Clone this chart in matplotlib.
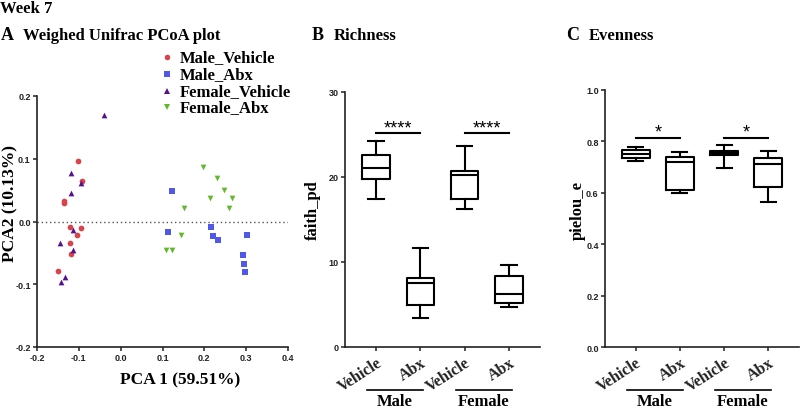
import matplotlib
matplotlib.use("Agg")
import matplotlib.pyplot as plt
from matplotlib.lines import Line2D

# ---------------- data ----------------
mv_x = [-0.102, -0.093, -0.136, -0.136, -0.120, -0.096, -0.104, -0.120, -0.118, -0.149]
mv_y = [0.096, 0.065, 0.033, 0.029, -0.008, -0.011, -0.021, -0.035, -0.052, -0.079]
ma_x = [0.123, 0.114, 0.217, 0.221, 0.233, 0.302, 0.292, 0.294, 0.298]
ma_y = [0.049, -0.016, -0.009, -0.023, -0.029, -0.021, -0.053, -0.068, -0.081]
fv_x = [-0.041, -0.119, -0.095, -0.119, -0.115, -0.144, -0.114, -0.132, -0.142]
fv_y = [0.170, 0.078, 0.061, 0.045, -0.014, -0.034, -0.045, -0.088, -0.096]
fa_x = [0.198, 0.231, 0.248, 0.213, 0.266, 0.260, 0.152, 0.145, 0.108, 0.123]
fa_y = [0.087, 0.069, 0.050, 0.037, 0.038, 0.022, 0.022, -0.022, -0.046, -0.045]
series_names = ["Male_Vehicle", "Male_Abx", "Female_Vehicle", "Female_Abx"]

groups = ["Vehicle", "Abx", "Vehicle", "Abx"]
sexes = ["Male", "Female"]

rich_whislo = [17.4, 3.4, 16.2, 4.7]
rich_q1 = [19.8, 4.9, 17.4, 5.2]
rich_med = [21.1, 7.5, 20.2, 6.2]
rich_q3 = [22.6, 8.1, 20.7, 8.3]
rich_whishi = [24.2, 11.6, 23.7, 9.6]

even_whislo = [0.722, 0.600, 0.695, 0.565]
even_q1 = [0.734, 0.612, 0.748, 0.621]
even_med = [0.750, 0.718, 0.754, 0.712]
even_q3 = [0.767, 0.739, 0.761, 0.734]
even_whishi = [0.776, 0.760, 0.787, 0.763]

rich_sig = ["****", "****"]
even_sig = ["*", "*"]
rich_sig_y = 25.2
even_sig_y = 0.812

# ---------------- style ----------------
SERIF = ["Liberation Serif", "DejaVu Serif"]
SANS = ["Liberation Sans", "DejaVu Sans"]
plt.rcParams["font.family"] = SERIF

W, H = 800, 410
fig = plt.figure(figsize=(8, 4.1), dpi=100)

def fx(px):
    return px / W

def fy(py):
    return 1 - py / H

def style_axis(ax):
    for s in ["top", "right"]:
        ax.spines[s].set_visible(False)
    for s in ["left", "bottom"]:
        ax.spines[s].set_linewidth(1.2)
        ax.spines[s].set_color("#222222")
    ax.tick_params(direction="out", length=3, width=1.1, colors="#222222",
                   labelsize=6.5, pad=1.5)
    for lab in ax.get_yticklabels():
        lab.set_fontfamily(SANS)
        lab.set_fontweight("bold")

# ---------------- panel A ----------------
axA = fig.add_axes([fx(37), fy(348), fx(288 - 37), (348 - 97) / H])
cols = ["#D9434B", "#5157E6", "#55128F", "#63B92E"]
marks = ["o", "s", "^", "v"]
data = [(mv_x, mv_y), (ma_x, ma_y), (fv_x, fv_y), (fa_x, fa_y)]
for (xs, ys), c, m in zip(data, cols, marks):
    axA.scatter(xs, ys, s=17, c=c, marker=m, linewidths=0, zorder=3)
axA.axhline(0, color="#555555", lw=1.0, ls=(0, (1, 2)), zorder=1)
axA.set_xlim(-0.2, 0.4)
axA.set_ylim(-0.2, 0.2)
axA.set_xticks([-0.2, -0.1, 0.0, 0.1, 0.2, 0.3, 0.4])
axA.set_yticks([-0.2, -0.1, 0.0, 0.1, 0.2])
axA.set_xticklabels(["-0.2", "-0.1", "0.0", "0.1", "0.2", "0.3", "0.4"])
axA.set_yticklabels(["-0.2", "-0.1", "0.0", "0.1", "0.2"])
style_axis(axA)
for lab in axA.get_xticklabels():
    lab.set_fontfamily(SANS)
    lab.set_fontweight("bold")

fig.text(fx(180), fy(380), "PCA 1 (59.51%)", ha="center", va="center",
         fontsize=12.5, fontweight="bold")
fig.text(fx(10), fy(204), "PCA2 (10.13%)", ha="center", va="center",
         rotation=90, fontsize=12.5, fontweight="bold")

# legend (manual, in figure coords)
leg_y = [58, 75, 92, 108]
for name, c, m, ly in zip(series_names, cols, marks, leg_y):
    fig.add_artist(Line2D([fx(167)], [fy(ly)], marker=m, color=c, ms=4,
                          mew=0, ls="none", transform=fig.transFigure))
    fig.text(fx(180), fy(ly), name, ha="left", va="center",
             fontsize=12, fontweight="bold")

# ---------------- box panels ----------------
def make_stats(lo, q1, med, q3, hi):
    return [dict(whislo=a, q1=b, med=c, q3=d, whishi=e, fliers=[])
            for a, b, c, d, e in zip(lo, q1, med, q3, hi)]

def box_panel(rect, stats, ylim, yticks, yticklabels, sig, sig_y, star_off):
    ax = fig.add_axes(rect)
    lw = 1.5
    ax.bxp(stats, positions=[0, 1, 2, 3], widths=0.62, showfliers=False,
           boxprops=dict(lw=lw, color="black"),
           whiskerprops=dict(lw=lw, color="black"),
           capprops=dict(lw=lw, color="black"),
           medianprops=dict(lw=lw, color="black"),
           capwidths=0.34)
    ax.set_xlim(-0.7, 3.7)
    ax.set_ylim(*ylim)
    ax.set_yticks(yticks)
    ax.set_yticklabels(yticklabels)
    ax.set_xticks([0, 1, 2, 3])
    style_axis(ax)
    ax.set_xticklabels(groups, rotation=33, ha="right",
                       rotation_mode="anchor", fontsize=11.5,
                       fontweight="bold", family=SERIF)
    ax.tick_params(axis="x", pad=2)
    for i, s in enumerate(sig):
        x0, x1 = 2 * i, 2 * i + 1
        ax.plot([x0, x1], [sig_y, sig_y], color="black", lw=1.5,
                clip_on=False)
        ax.text((x0 + x1) / 2, sig_y + star_off, s, ha="center",
                va="center", fontsize=13, family=SANS)
    return ax

axB = box_panel([fx(345), fy(348), fx(540 - 345), (348 - 93) / H],
                make_stats(rich_whislo, rich_q1, rich_med, rich_q3, rich_whishi),
                (0, 30), [0, 10, 20, 30], ["0", "10", "20", "30"],
                rich_sig, rich_sig_y, 0.6)
axC = box_panel([fx(605), fy(348.3), fx(799 - 605), (348.3 - 90.7) / H],
                make_stats(even_whislo, even_q1, even_med, even_q3, even_whishi),
                (0, 1.0), [0, 0.2, 0.4, 0.6, 0.8, 1.0],
                ["0.0", "0.2", "0.4", "0.6", "0.8", "1.0"],
                even_sig, even_sig_y, 0.025)

fig.text(fx(313), fy(210), "faith_pd", ha="center", va="center",
         rotation=90, fontsize=12, fontweight="bold")
fig.text(fx(578), fy(211), "pielou_e", ha="center", va="center",
         rotation=90, fontsize=12, fontweight="bold")

# group lines and labels under x tick labels
def group_labels(ax, y_line_px, y_text_px):
    bb = ax.get_position()
    yl = (fy(y_line_px) - bb.y0) / bb.height
    yt = (fy(y_text_px) - bb.y0) / bb.height
    trans = ax.get_xaxis_transform()
    for i, sex in enumerate(sexes):
        x0, x1 = 2 * i - 0.2, 2 * i + 1.06
        ax.plot([x0, x1], [yl, yl], color="black", lw=1.2, transform=trans,
                clip_on=False)
        ax.text((x0 + x1) / 2, yt, sex, ha="center", va="center",
                transform=trans, fontsize=12, fontweight="bold")

group_labels(axB, 391, 402)
group_labels(axC, 391, 402)

# ---------------- titles ----------------
fig.text(0.0, fy(13), "Week 7", ha="left", va="baseline",
         fontsize=12, fontweight="bold")
for xA, xT, lett, title in [(1, 23, "A", "Weighed Unifrac PCoA plot"),
                            (312, 334, "B", "Richness"),
                            (566, 589, "C", "Evenness")]:
    fig.text(fx(xA), fy(40), lett, ha="left", va="baseline",
             fontsize=13, fontweight="bold")
    fig.text(fx(xT), fy(40), title, ha="left", va="baseline",
             fontsize=12, fontweight="bold")

fig.savefig("out.png", dpi=100)
